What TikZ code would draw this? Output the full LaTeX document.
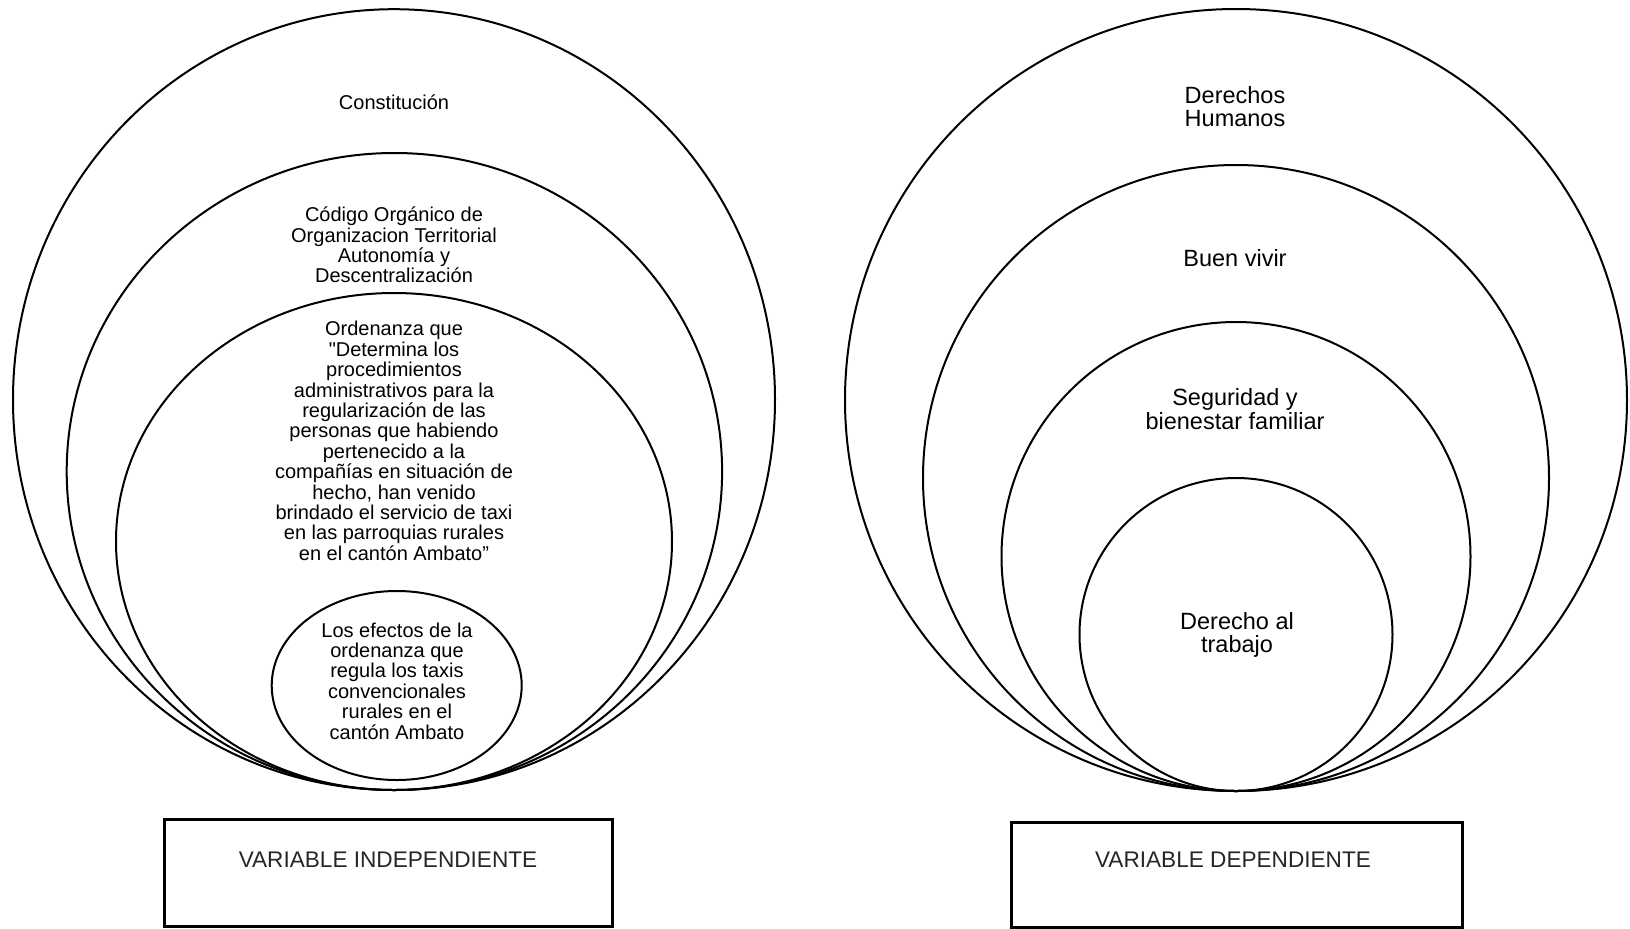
\documentclass[tikz,border=0pt]{standalone}
\usepackage{fontspec}
\setmainfont{Liberation Sans}[Ligatures=TeXOff]
\usetikzlibrary{positioning}

\tikzset{
  ring/.style={line width=1pt},
  txtL/.style={align=center, inner sep=0pt, font=\fontsize{10}{10.2}\selectfont},
  txtR/.style={align=center, inner sep=0pt, font=\fontsize{11.75}{11.6}\selectfont},
  varbox/.style={draw, line width=1.5pt, inner sep=0pt},
  vartext/.style={inner sep=0pt, text=black!85, font=\fontsize{11.3}{13}\selectfont},
}

\begin{document}
\begin{tikzpicture}[x=0.5pt, y=-0.5pt]
	\useasboundingbox (0,0) rectangle (1630,928);
	% variable independiente
	\draw[ring] (394,399.6) ellipse [x radius=381, y radius=390.4];
	\draw[ring] (394.4,471.5) ellipse [x radius=327.7, y radius=318.5];
	\draw[ring] (394,541.5) ellipse [x radius=278, y radius=248.5];
	\draw[ring] (396.7,685.5) ellipse [x radius=125, y radius=94.5];
	\node[txtL] (constitucion) at (394,102) {Constitución};
	\node[txtL] (codigo) at (394,245) {Código Orgánico de\\Organizacion Territorial\\Autonomía y\\Descentralización};
	\node[txtL] (ordenanza) at (394,441) {Ordenanza que\\"Determina los\\procedimientos\\administrativos para la\\regularización de las\\personas que habiendo\\pertenecido a la\\compañías en situación de\\hecho, han venido\\brindado el servicio de taxi\\en las parroquias rurales\\en el cantón Ambato”};
	\node[txtL] (efectos) at (397,681) {Los efectos de la\\ordenanza que\\regula los taxis\\convencionales\\rurales en el\\cantón Ambato};
	\node[varbox, minimum width=224pt, minimum height=53.5pt] (boxI) at (388,872.5) {};
	\node[vartext] (varI) at (388,860) {VARIABLE INDEPENDIENTE};
	% variable dependiente
	\foreach \r in {391,313,234.5,156.5}
		\draw[ring] (1236,791-\r) circle [radius=\r];
	\node[txtR] (derechos) at (1235,106.5) {Derechos\\Humanos};
	\node[txtR] (buenvivir) at (1235,258) {Buen vivir};
	\node[txtR] (seguridad) at (1235,409) {Seguridad y\\bienestar familiar};
	\node[txtR] (trabajo) at (1237,634.6) {Derecho al\\trabajo};
	\node[varbox, minimum width=225.5pt, minimum height=52.5pt] (boxD) at (1236.5,874.5) {};
	\node[vartext] (varD) at (1233,860) {VARIABLE DEPENDIENTE};
\end{tikzpicture}
\end{document}
